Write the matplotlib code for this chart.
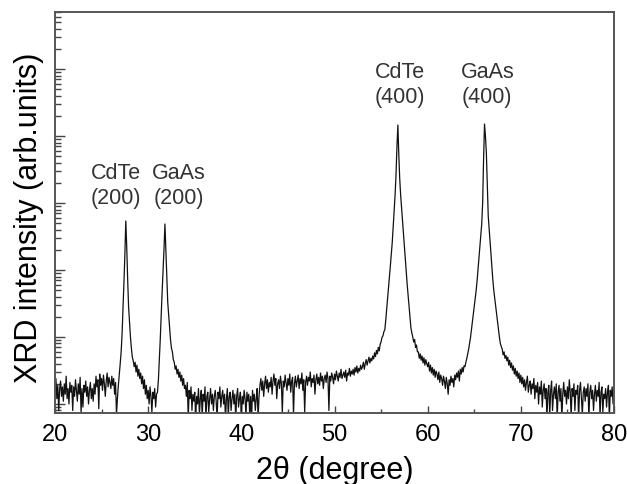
import numpy as np
import matplotlib
matplotlib.use("Agg")
import matplotlib.pyplot as plt
from matplotlib.ticker import LogLocator, NullFormatter, MultipleLocator

plt.rcParams['font.family'] = ['Liberation Sans', 'DejaVu Sans']

# 2theta scan, 0.1 degree step from 20 to 80
two_theta = np.linspace(20.0, 80.0, 601)

# intensity (counts), one row = 1 degree
intensity = [
    16, 24, 12, 19, 8, 17, 22, 13, 18, 11,                      # 20
    20, 14, 26, 12, 17, 10, 21, 15, 19, 8,                      # 21
    18, 13, 23, 16, 11, 20, 14, 25, 7.5, 17,                    # 22
    9, 19, 15, 22, 13, 18, 10, 16, 21, 12,                      # 23
    17, 11, 20, 14, 26, 18, 23, 8.5, 28, 19,                    # 24
    24, 16, 27, 20, 13, 22, 29, 18, 25, 21,                     # 25
    17, 26, 19, 24, 14, 21, 7, 12, 19, 27,                      # 26
    40, 60, 111, 257, 650, 1700, 5400, 2200, 720, 280,          # 27  CdTe(200)
    170, 100, 68, 50, 44, 36, 42, 30, 38, 26,                   # 28
    33, 24, 29, 20, 26, 17, 23, 14, 19, 12,                     # 29
    16, 10, 18, 13, 7.5, 15, 12, 17, 9, 14,                     # 30
    15, 23, 46, 94, 217, 475, 990, 2060, 4860, 2060,            # 31  GaAs(200)
    820, 330, 215, 140, 91, 68, 60, 46, 42, 33,                 # 32
    37, 28, 33, 25, 30, 22, 27, 19, 24, 17,                     # 33
    19, 13, 21, 6, 16, 12, 18, 8, 14, 11,                       # 34
    15, 6, 13, 10, 17, 7, 12, 16, 6.5, 14,                      # 35
    11, 18, 6, 13, 15, 7.5, 12, 17, 10, 14,                     # 36
    8, 13, 16, 11, 6, 15, 12, 18, 9, 13,                        # 37
    16, 10, 14, 6, 12, 17, 6.5, 13, 15, 8,                      # 38
    12, 16, 10, 14, 6, 13, 17, 9, 12, 15,                       # 39
    6, 13, 10, 16, 12, 6.5, 15, 11, 14, 7,                      # 40
    13, 6, 16, 11, 14, 8, 12, 17, 6, 13,                        # 41
    19, 24, 16, 22, 13, 20, 26, 17, 23, 15,                     # 42
    21, 18, 25, 14, 22, 28, 19, 24, 12, 20,                     # 43
    23, 17, 26, 20, 7.5, 22, 18, 27, 21, 16,                    # 44
    24, 19, 28, 15, 22, 25, 7, 20, 26, 18,                      # 45
    22, 27, 17, 24, 20, 29, 16, 23, 7.5, 21,                    # 46
    26, 19, 25, 22, 30, 18, 24, 21, 27, 14,                     # 47
    23, 28, 20, 25, 19, 29, 22, 26, 17, 24,                     # 48
    27, 21, 30, 24, 8, 26, 22, 29, 25, 20,                      # 49
    28, 23, 31, 26, 22, 29, 25, 33, 24, 27,                     # 50
    30, 25, 32, 22, 29, 27, 34, 26, 31, 28,                     # 51
    33, 27, 35, 30, 37, 29, 34, 31, 38, 33,                     # 52
    36, 42, 33, 40, 46, 38, 44, 50, 41, 48,                     # 53
    44, 52, 47, 58, 51, 63, 56, 70, 62, 78,                     # 54
    85, 99, 104, 120, 128, 178, 258, 375, 545, 795,             # 55
    1180, 1760, 2620, 4480, 7640, 13000, 26000, 68000, 146000, 53000,   # 56 CdTe(400)
    23000, 13100, 8400, 5370, 3430, 2200, 1420, 915, 610, 420,  # 57
    290, 200, 137, 115, 100, 84, 92, 70, 76, 60,                # 58
    60, 48, 56, 45, 52, 41, 49, 38, 46, 40,                     # 59
    36, 42, 31, 38, 29, 35, 27, 33, 25, 31,                     # 60
    28, 23, 30, 21, 27, 24, 19, 26, 22, 17,                     # 61
    25, 20, 14, 23, 19, 26, 21, 24, 18, 27,                     # 62
    23, 29, 25, 31, 22, 33, 28, 35, 30, 37,                     # 63
    36, 42, 48, 56, 66, 80, 99, 129, 168, 220,                  # 64
    287, 375, 490, 680, 1000, 1480, 2200, 3270, 4850, 10000,    # 65
    45000, 151000, 100000, 55000, 18600, 6400, 4100, 2620, 1680, 1070,  # 66 GaAs(400)
    690, 490, 375, 288, 220, 168, 129, 99, 80, 72,              # 67
    66, 54, 60, 48, 53, 44, 50, 38, 45, 35,                     # 68
    41, 32, 37, 28, 34, 26, 31, 24, 29, 21,                     # 69
    27, 20, 25, 18, 23, 16, 21, 26, 15, 19,                     # 70
    22, 14, 20, 17, 24, 12, 19, 15, 21, 10,                     # 71
    18, 14, 22, 9, 16, 20, 12, 17, 6, 15,                       # 72
    19, 6.5, 16, 22, 8, 14, 18, 12, 20, 6,                      # 73
    15, 19, 11, 17, 6, 14, 21, 13, 16, 10,                      # 74
    18, 12, 23, 15, 6.5, 17, 13, 20, 8, 16,                     # 75
    14, 19, 6, 16, 21, 12, 7, 15, 18, 11,                       # 76
    17, 13, 20, 6, 15, 19, 12, 16, 8, 14,                       # 77
    19, 11, 16, 13, 21, 6.5, 15, 18, 7.5, 14,                   # 78
    12, 17, 9, 15, 19, 6, 16, 13, 18, 10,                       # 79
    14,
]

# peak labels
label_text = ['CdTe\n(200)', 'GaAs\n(200)', 'CdTe\n(400)', 'GaAs\n(400)']
label_x = [26.55, 33.3, 57.0, 66.4]
label_y = [18600, 18600, 597000, 597000]

fig = plt.figure(figsize=(6.27, 4.85), dpi=100)
ax = fig.add_axes([0.0877, 0.1464, 0.8916, 0.8268])

ax.plot(two_theta, intensity, color='#111111', lw=0.9)

ax.set_yscale('log')
ax.set_xlim(20, 80)
ax.set_ylim(7.34, 7.1e6)

for t, x, y in zip(label_text, label_x, label_y):
    ax.text(x, y, t, ha='center', va='center', fontsize=15.5,
            color='#333333', linespacing=1.3)

ax.xaxis.set_major_locator(MultipleLocator(10))
ax.xaxis.set_minor_locator(MultipleLocator(5))
ax.yaxis.set_major_locator(LogLocator(base=10, numticks=12))
ax.yaxis.set_minor_locator(LogLocator(base=10, subs=np.arange(2, 10), numticks=12))
ax.yaxis.set_major_formatter(NullFormatter())
ax.yaxis.set_minor_formatter(NullFormatter())

ax.tick_params(axis='x', which='major', direction='in', length=5, width=1,
               labelsize=17, pad=7, top=False, color='#444444')
ax.tick_params(axis='x', which='minor', direction='in', length=3, width=1,
               top=False, color='#444444')
ax.tick_params(axis='y', which='major', direction='in', length=7, width=1,
               right=False, color='#444444')
ax.tick_params(axis='y', which='minor', direction='in', length=4, width=1,
               right=False, color='#444444')

for s in ax.spines.values():
    s.set_color('#555555')
    s.set_linewidth(1.4)

ax.set_xlabel('2θ (degree)', fontsize=22)
ax.set_ylabel('XRD intensity (arb.units)', fontsize=22)
ax.xaxis.set_label_coords(0.5, -0.105)
ax.yaxis.set_label_coords(-0.02, 0.49)

fig.savefig('out.png', dpi=100)
plt.close(fig)
